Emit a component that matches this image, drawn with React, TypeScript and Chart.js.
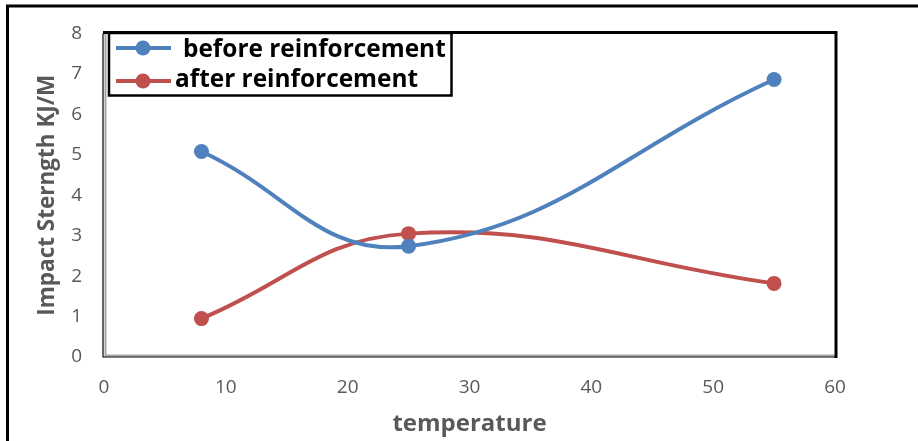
import React, { useEffect, useRef } from "react";
import { Chart, registerables } from "chart.js";

Chart.register(...registerables);

const temperatures = [8, 25, 55];
const beforeValues = [5.08, 2.74, 6.86];
const afterValues = [0.95, 3.05, 1.82];
const seriesLabels = ["before reinforcement", "after reinforcement"];
const seriesColors = ["#4F81BD", "#C0504D"];
const xTitle = "temperature";
const yTitle = "Impact Sterngth KJ/M";

const FONT = "'Open Sans', 'Noto Sans', sans-serif";

export default function App() {
  const ref = useRef<HTMLCanvasElement>(null);

  useEffect(() => {
    document.body.style.margin = "0";
    const canvas = ref.current;
    if (!canvas) return;

    const framePlugin = {
      id: "frame",
      beforeDraw(chart: any) {
        const ctx = chart.ctx;
        ctx.save();
        ctx.fillStyle = "#ffffff";
        ctx.fillRect(0, 0, chart.width, chart.height);
        ctx.strokeStyle = "#000000";
        ctx.lineWidth = 3;
        ctx.beginPath();
        ctx.moveTo(7.5, chart.height);
        ctx.lineTo(7.5, 6);
        ctx.lineTo(chart.width, 6);
        ctx.stroke();
        ctx.restore();
      },
      beforeDatasetsDraw(chart: any) {
        const { left, right, top, bottom } = chart.chartArea;
        const ctx = chart.ctx;
        ctx.save();
        ctx.strokeStyle = "#a6a6a6";
        ctx.lineWidth = 2;
        ctx.beginPath();
        ctx.moveTo(left + 1.5, top);
        ctx.lineTo(left + 1.5, bottom - 1.5);
        ctx.lineTo(right, bottom - 1.5);
        ctx.stroke();
        ctx.strokeStyle = "#000000";
        ctx.lineWidth = 1.2;
        ctx.beginPath();
        ctx.moveTo(left - 1, top);
        ctx.lineTo(left - 1, bottom);
        ctx.lineTo(right, bottom);
        ctx.stroke();
        ctx.lineWidth = 3;
        ctx.beginPath();
        ctx.moveTo(left - 1, top - 1);
        ctx.lineTo(right + 1, top - 1);
        ctx.lineTo(right + 1, bottom + 1);
        ctx.stroke();
        ctx.restore();
      },
      afterDraw(chart: any) {
        const ctx = chart.ctx;
        ctx.save();
        ctx.fillStyle = "#ffffff";
        ctx.fillRect(109, 33, 342, 62);
        ctx.strokeStyle = "#000000";
        ctx.lineWidth = 2.5;
        ctx.strokeRect(109, 33, 342.5, 62.5);
        const rows = [
          { y: 48, textX: 183, base: 57 },
          { y: 81, textX: 175, base: 87 },
        ];
        chart.data.datasets.forEach((ds: any, i: number) => {
          const r = rows[i];
          ctx.strokeStyle = ds.borderColor;
          ctx.lineWidth = 4;
          ctx.beginPath();
          ctx.moveTo(116, r.y);
          ctx.lineTo(171, r.y);
          ctx.stroke();
          ctx.fillStyle = ds.backgroundColor;
          ctx.beginPath();
          ctx.arc(143, r.y, 7.5, 0, Math.PI * 2);
          ctx.fill();
          ctx.fillStyle = "#000000";
          ctx.font = `bold 24.4px ${FONT}`;
          ctx.textBaseline = "alphabetic";
          ctx.textAlign = "left";
          ctx.fillText(ds.label, r.textX, r.base);
        });
        ctx.restore();
      },
    };

    const mk = (vals: number[]) => temperatures.map((t, i) => ({ x: t, y: vals[i] }));

    const chart = new Chart(canvas, {
      type: "line",
      data: {
        datasets: [
          {
            label: seriesLabels[0],
            data: mk(beforeValues),
            borderColor: seriesColors[0],
            backgroundColor: seriesColors[0],
            borderWidth: 4,
            pointRadius: 7.5,
            pointBorderWidth: 0,
            tension: 0.42,
          },
          {
            label: seriesLabels[1],
            data: mk(afterValues),
            borderColor: seriesColors[1],
            backgroundColor: seriesColors[1],
            borderWidth: 4,
            pointRadius: 7.5,
            pointBorderWidth: 0,
            tension: 0.42,
          },
        ],
      },
      options: {
        responsive: false,
        animation: false,
        devicePixelRatio: 1,
        layout: { padding: { left: 0, top: 30, right: 83, bottom: 0 } },
        plugins: { legend: { display: false }, tooltip: { enabled: false } },
        scales: {
          x: {
            type: "linear",
            min: 0,
            max: 60,
            grid: { display: false, drawTicks: false },
            border: { display: false },
            ticks: {
              stepSize: 10,
              padding: 19,
              color: "#595959",
              font: { family: FONT, size: 19 },
            },
            title: {
              display: true,
              text: xTitle,
              color: "#595959",
              font: { family: FONT, size: 24, weight: "bold" },
              padding: { top: 0, bottom: 2 },
            },
            afterFit(scale: any) {
              scale.height = 84;
            },
          },
          y: {
            min: 0,
            max: 8,
            grid: { display: false, drawTicks: false },
            border: { display: false },
            ticks: {
              stepSize: 1,
              padding: 22,
              color: "#595959",
              font: { family: FONT, size: 19 },
            },
            title: {
              display: true,
              text: yTitle,
              color: "#595959",
              font: { family: FONT, size: 22.5, weight: "bold" },
              padding: { top: 34, bottom: 0 },
            },
            afterFit(scale: any) {
              scale.width = 104;
            },
          },
        },
      } as any,
      plugins: [framePlugin],
    });

    return () => chart.destroy();
  }, []);

  return (
    <div style={{ width: 918, height: 441, position: "relative" }}>
      <canvas ref={ref} width={918} height={441} />
    </div>
  );
}
